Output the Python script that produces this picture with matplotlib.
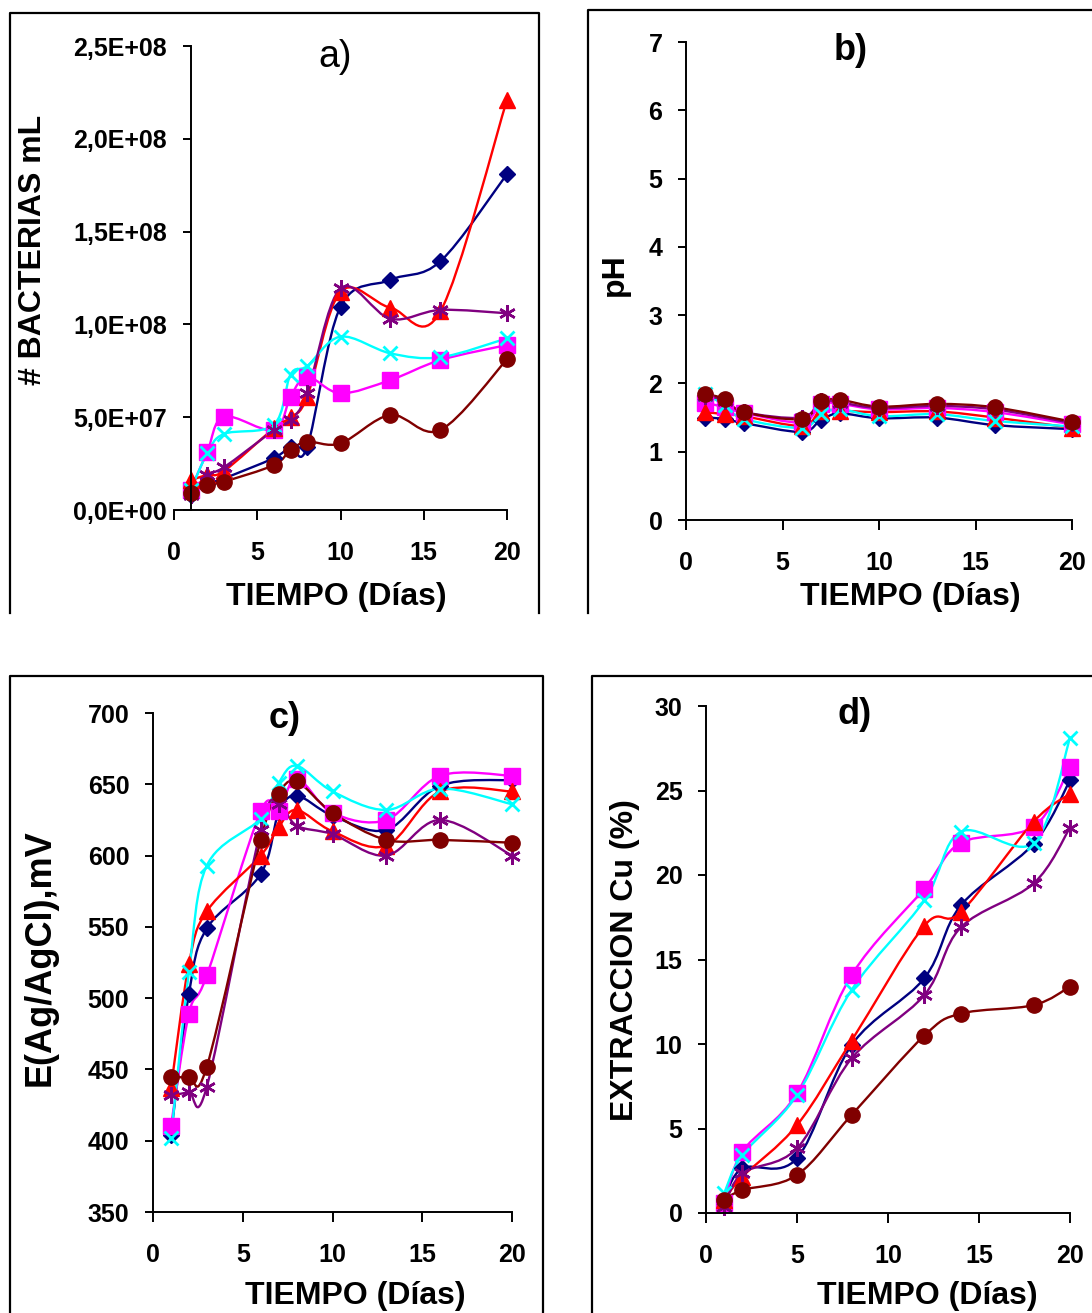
import numpy as np
import matplotlib
matplotlib.use("Agg")
from matplotlib import pyplot as plt
from matplotlib.path import Path
from matplotlib.patches import PathPatch
from matplotlib.lines import Line2D
from matplotlib.ticker import FuncFormatter

plt.rcParams['font.family'] = ['Liberation Sans', 'DejaVu Sans']
plt.rcParams['font.weight'] = 'bold'

# days sampled
dias = [1, 2, 3, 6, 7, 8, 10, 13, 16, 20]
dias_d = [1, 2, 5, 8, 12, 14, 18, 20]

# a) bacterias / mL (millions)
bact_azul = [8, 14, 17, 28, 34, 34, 109.5, 124, 134, 181]
bact_magenta = [10.8, 31.4, 50.3, 43, 61, 71.8, 62.9, 70, 80.8, 88.9]
bact_rojo = [16, 19, 21, 44, 50, 61, 117.6, 109, 107, 221]
bact_cian = [10.8, 30.5, 41, 46, 73, 77.6, 93.4, 84.4, 82.3, 92.5]
bact_morado = [8, 19, 23, 43, 48.5, 63, 119.4, 103, 107.8, 106]
bact_marron = [9, 13.5, 15.3, 24.2, 32.3, 36.8, 35.9, 51.2, 43.1, 81.2]

# b) pH
ph_azul = [1.50, 1.48, 1.42, 1.29, 1.47, 1.56, 1.49, 1.50, 1.39, 1.33]
ph_magenta = [1.72, 1.65, 1.57, 1.43, 1.70, 1.70, 1.62, 1.64, 1.58, 1.40]
ph_rojo = [1.58, 1.55, 1.52, 1.38, 1.60, 1.60, 1.58, 1.59, 1.50, 1.35]
ph_cian = [1.85, 1.68, 1.48, 1.35, 1.55, 1.62, 1.52, 1.55, 1.45, 1.37]
ph_morado = [1.82, 1.75, 1.58, 1.50, 1.74, 1.72, 1.64, 1.67, 1.62, 1.42]
ph_marron = [1.85, 1.77, 1.58, 1.48, 1.74, 1.76, 1.66, 1.70, 1.65, 1.44]

# c) potencial E (mV)
e_azul = [404, 503, 549, 587, 630, 642, 628, 618, 649, 653]
e_magenta = [410, 489, 516, 631, 631, 654, 630, 625, 656, 656]
e_rojo = [437, 524, 561, 600, 620, 632, 617, 607, 645, 645]
e_cian = [402, 518, 593, 626, 651, 663, 645, 632, 647, 636]
e_morado = [432, 434, 438, 618, 636, 621, 615, 600, 625, 600]
e_marron = [445, 445, 452, 611, 643, 652, 630, 611, 611, 609]

# d) extraccion Cu (%)
cu_azul = [0.77, 2.64, 3.24, 9.94, 13.9, 18.2, 21.85, 25.6]
cu_magenta = [0.57, 3.63, 7.08, 14.08, 19.2, 21.9, 22.86, 26.4]
cu_rojo = [0.77, 2.15, 5.2, 10.2, 17.0, 17.8, 23.15, 24.8]
cu_cian = [1.17, 3.43, 6.98, 13.2, 18.5, 22.56, 21.9, 28.1]
cu_morado = [0.37, 2.35, 3.83, 9.15, 12.9, 16.9, 19.5, 22.8]
cu_marron = [0.77, 1.36, 2.25, 5.8, 10.5, 11.8, 12.3, 13.4]

estilos = [
    dict(color="#000080", marker="D", ms=8),
    dict(color="#FF00FF", marker="s", ms=11),
    dict(color="#FF0000", marker="^", ms=11),
    dict(color="#00FFFF", marker="x", ms=10, mew=2),
    dict(color="#800080", marker=(6, 2, 0), ms=12, mew=1.8),
    dict(color="#800000", marker="o", ms=11),
]

W, H = 1092, 1313
fig = plt.figure(figsize=(W / 100, H / 100), dpi=100)


def caja(x0, x1, ytop, ybot):
    return [x0 / W, 1 - ybot / H, (x1 - x0) / W, (ybot - ytop) / H]


def px(x, y):
    return x / W, 1 - y / H


def suave(x, y):
    # excel-like smoothed line (cubic bezier through the points)
    p = np.column_stack([x, y]).astype(float)
    n = len(p)
    verts = [p[0]]
    codes = [Path.MOVETO]
    for i in range(n - 1):
        p0 = p[max(i - 1, 0)]
        p1 = p[i]
        p2 = p[i + 1]
        p3 = p[min(i + 2, n - 1)]
        verts += [p1 + (p2 - p0) / 6, p2 - (p3 - p1) / 6, p2]
        codes += [Path.CURVE4] * 3
    return Path(verts, codes)


def panel(ax, x, series, ylim, yticks):
    for s, st in zip(series, estilos):
        ax.add_patch(PathPatch(suave(x, s), fc="none", ec=st["color"], lw=1.7))
        ax.plot(x, s, ls="none", marker=st["marker"], ms=st["ms"],
                color=st["color"], mec=st["color"], mew=st.get("mew", 1),
                clip_on=False)
    ax.set_xlim(0, 20)
    ax.set_ylim(*ylim)
    ax.set_xticks([0, 5, 10, 15, 20])
    ax.set_yticks(yticks)
    for sp in ["top", "right"]:
        ax.spines[sp].set_visible(False)
    for sp in ["left", "bottom"]:
        ax.spines[sp].set_linewidth(1.4)
    ax.tick_params(axis="y", direction="out", length=6, width=1.4, pad=11, labelsize=18)
    ax.tick_params(axis="x", direction="out", length=7, width=1.4, pad=15, labelsize=18)
    for lab in ax.get_xticklabels() + ax.get_yticklabels():
        lab.set_fontweight("bold")


# a)
ax_a = fig.add_axes(caja(174, 507, 46, 510))
panel(ax_a, dias, [np.array(v) * 1e6 for v in
                   [bact_azul, bact_magenta, bact_rojo, bact_cian, bact_morado, bact_marron]],
      (0, 2.5e8), np.arange(0, 2.51e8, 5e7))
ax_a.spines["left"].set_position(("data", 1))
ax_a.yaxis.set_major_formatter(FuncFormatter(lambda v, p: f"{v:.1E}".replace(".", ",")))

# b)
ax_b = fig.add_axes(caja(686, 1072, 42, 520))
panel(ax_b, dias, [ph_azul, ph_magenta, ph_rojo, ph_cian, ph_morado, ph_marron],
      (0, 7), range(0, 8))

# c)
ax_c = fig.add_axes(caja(153, 512, 713, 1212))
panel(ax_c, dias, [e_azul, e_magenta, e_rojo, e_cian, e_morado, e_marron],
      (350, 700), range(350, 701, 50))

# d)
ax_d = fig.add_axes(caja(706, 1070, 706, 1213))
panel(ax_d, dias_d, [cu_azul, cu_magenta, cu_rojo, cu_cian, cu_morado, cu_marron],
      (0, 30), range(0, 31, 5))

# titles and axis labels
fs_lab = 23
fig.text(*px(335, 57), "a)", ha="center", va="center", fontsize=27, fontweight="normal")
for t, (x, y) in [("b)", (851, 50)), ("c)", (285, 718)), ("d)", (855, 715))]:
    fig.text(*px(x, y), t, ha="center", va="center", fontsize=26, fontweight="bold")
for (x, y) in [(336, 597), (910, 597), (355, 1296), (927, 1296)]:
    fig.text(*px(x, y), "TIEMPO (Días)", ha="center", va="center", fontsize=fs_lab, fontweight="bold")
fig.text(*px(33, 250), "# BACTERIAS mL", rotation=90, ha="center", va="center", fontsize=fs_lab, fontweight="bold")
fig.text(*px(615, 275), "pH", rotation=90, ha="center", va="center", fontsize=fs_lab, fontweight="bold")
fig.text(*px(40, 958), "E(Ag/AgCl),mV", rotation=90, ha="center", va="center", fontsize=26, fontweight="bold")
fig.text(*px(625, 960), "EXTRACCION Cu (%)", rotation=90, ha="center", va="center", fontsize=fs_lab, fontweight="bold")

# chart frames
marcos = [
    [(9.5, 613), (9.5, 13), (539, 13), (539, 613)],
    [(588, 613), (588, 10), (1092, 10)],
    [(9.5, 1313), (9.5, 676), (543, 676), (543, 1313)],
    [(592, 1313), (592, 676), (1092, 676)],
]
for m in marcos:
    xs = [p[0] / W for p in m]
    ys = [1 - p[1] / H for p in m]
    fig.add_artist(Line2D(xs, ys, color="black", lw=1.6, transform=fig.transFigure))

fig.savefig("out.png", dpi=100)
